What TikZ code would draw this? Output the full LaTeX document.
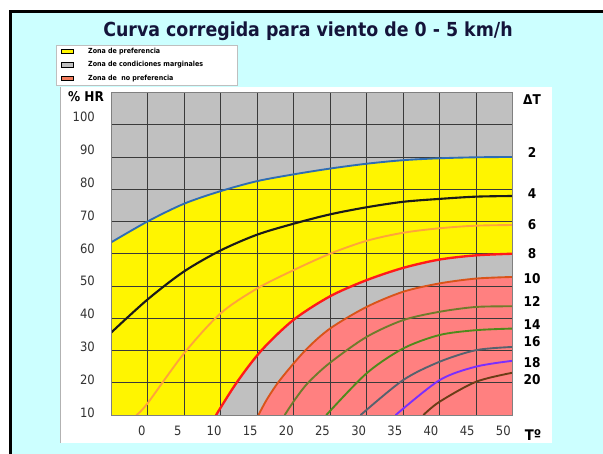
\documentclass[tikz,border=0pt]{standalone}
\usepackage{fontspec}
\setmainfont{DejaVu Sans Condensed}
\definecolor{skyback}{HTML}{CCFFFF}
\definecolor{zonegray}{HTML}{C0C0C0}
\definecolor{zoneyellow}{HTML}{FFF500}
\definecolor{zonepink}{HTML}{FF8080}
\definecolor{legpink}{HTML}{F47C5C}
\definecolor{gridline}{HTML}{3A3A3A}
\definecolor{titlecol}{HTML}{14143A}
\definecolor{labelcol}{HTML}{333333}
\definecolor{dtII}{HTML}{2E6DB4}
\definecolor{dtIV}{HTML}{1A1A1A}
\definecolor{dtVI}{HTML}{FFA43A}
\definecolor{dtVIII}{HTML}{FF1A1A}
\definecolor{dtX}{HTML}{D9541A}
\definecolor{dtXII}{HTML}{6F7C2B}
\definecolor{dtXIV}{HTML}{4F8A1B}
\definecolor{dtXVI}{HTML}{56626E}
\definecolor{dtXVIII}{HTML}{7A2EFF}
\definecolor{dtXX}{HTML}{6B3D16}
\begin{document}
\begin{tikzpicture}[x=0.03cm, y=-0.03cm,
  hrlabel/.style = {anchor=east, text=labelcol, inner sep=0pt, font=\fontsize{11}{11}\selectfont},
  tlabel/.style = {text=labelcol, inner sep=0pt, font=\fontsize{11}{11}\selectfont},
  dtlabel/.style = {inner sep=0pt, font=\bfseries\fontsize{11.5}{11.5}\selectfont},
  legkey/.style = {draw=black, line width=0.6pt, minimum width=0.34cm, minimum height=0.13cm, inner sep=0pt},
  legtext/.style = {anchor=west, inner sep=0pt, font=\bfseries\fontsize{6}{6}\selectfont},
  curve/.style = {line width=1.6pt, line cap=round}]
\useasboundingbox (0,0) rectangle (603,454);
% background, frame and panels
\fill[skyback] (10,11) rectangle (603,454);
\draw[line width=3.4pt] (10.5,454) -- (10.5,11.5) -- (603,11.5);
\fill[white] (60,87) rectangle (552,443);
\draw[gray!60, line width=0.8pt] (60,87) -- (60,443);
\filldraw[fill=white, draw=gray!50] (56,45) rectangle (237,85);
\node[font=\bfseries\fontsize{16.5}{16.5}\selectfont, text=titlecol] (title) at (308,31) {Curva corregida para viento de 0 - 5 km/h};
% legend
\foreach \c/\t [count=\j from 0] in {zoneyellow/Zona de preferencia, zonegray/Zona de condiciones marginales, legpink/Zona de \ no preferencia}
{
    \node[legkey, fill=\c] (key\j) at (67.5, 51.6+13.3*\j) {};
    \node[legtext] (leg\j) at (88, 51.6+13.3*\j) {\t};
}
% axis labels
\node[font=\bfseries\fontsize{11.5}{11.5}\selectfont, inner sep=0pt] (hrname) at (86,96.5) {\% HR};
\node[font=\bfseries\fontsize{11.5}{11.5}\selectfont, inner sep=0pt] (dtname) at (532,100) {ΔT};
\node[font=\bfseries\fontsize{12.5}{12.5}\selectfont, inner sep=0pt] (tname) at (533,435) {Tº};
\foreach \v [count=\j from 0] in {100, 90, 80, 70, 60, 50, 40, 30, 20, 10}
    \node[hrlabel] (hr\v) at (95, 117+32.86*\j) {\v};
\foreach \v [count=\j from 0] in {0, 5, 10, 15, 20, 25, 30, 35, 40, 45, 50}
    \node[tlabel] (t\v) at (141.7+36.16*\j, 430.7) {\v};
\foreach \v/\y in {2/152.7, 4/193.3, 6/224.3, 8/253.3, 10/278.3, 12/301.7, 14/325, 16/341.7, 18/362.7, 20/379.3}
    \node[dtlabel] (dt\v) at (532, \y) {\v};
% chart: T on x, % HR on y
\begin{scope}[shift={(111,415)}, x=0.219cm, y=0.09675cm, shift={(5,-10)}]
\begin{scope}
\clip (-5,10) rectangle (50,110);
\fill[zonegray] (-5,10) rectangle (50,110);
\fill[zoneyellow] plot[smooth] coordinates {(-5,63.5) (0,70) (5,75.5) (10,79.4) (15,82.5) (20,84.6) (25,86.4) (30,87.9) (35,89) (40,89.6) (45,89.9) (50,90)} -- (50,10) -- (-5,10) -- cycle;
\fill[zonegray] plot[smooth] coordinates {(9.4,10) (12.2,20) (15.6,30) (20,39.5) (25,46.8) (30,51.8) (35,55.6) (40,58.2) (45,59.5) (50,60)} -- (50,10) -- cycle;
\fill[zonepink] plot[smooth] coordinates {(15.2,10) (16.4,15) (18.2,21) (21.6,30) (25,36.8) (30,43.5) (35,48.2) (40,50.8) (45,52.3) (50,52.8)} -- (50,10) -- cycle;
\foreach \t in {-5, 0, ..., 50}
    \draw[gridline, line width=0.7pt] (\t,10) -- (\t,110);
\foreach \h in {10, 20, ..., 110}
    \draw[gridline, line width=0.7pt] (-5,\h) -- (50,\h);
\draw[curve, dtII] plot[smooth] coordinates {(-5,63.5) (0,70) (5,75.5) (10,79.4) (15,82.5) (20,84.6) (25,86.4) (30,87.9) (35,89) (40,89.6) (45,89.9) (50,90)};
\draw[curve, dtIV, line width=1.8pt] plot[smooth] coordinates {(-5,35.5) (0,45.8) (5,54.5) (10,61) (15,65.9) (20,69.3) (25,72.2) (30,74.4) (35,76.1) (40,77) (45,77.7) (50,77.9)};
\draw[curve, dtVI] plot[smooth] coordinates {(-1.5,10) (0,13.6) (5,29.1) (10,41.5) (15,49.2) (20,54.9) (25,60) (30,64) (35,66.5) (40,67.9) (45,68.7) (50,68.9)};
\draw[curve, dtVIII, line width=2pt] plot[smooth] coordinates {(9.4,10) (12.2,20) (15.6,30) (20,39.5) (25,46.8) (30,51.8) (35,55.6) (40,58.2) (45,59.5) (50,60)};
\draw[curve, dtX] plot[smooth] coordinates {(15.2,10) (16.4,15) (18.2,21) (21.6,30) (25,36.8) (30,43.5) (35,48.2) (40,50.8) (45,52.3) (50,52.8)};
\draw[curve, dtXII] plot[smooth] coordinates {(18.8,10) (20.2,14.8) (22,20) (25,26.2) (30,34.2) (35,39.4) (40,42) (45,43.5) (50,43.7)};
\draw[curve, dtXIV] plot[smooth] coordinates {(24.5,10) (30,22.9) (35,30.6) (40,34.8) (45,36.3) (50,36.8)};
\draw[curve, dtXVI] plot[smooth] coordinates {(29.2,10) (35,20.8) (40,26.5) (45,30.1) (50,31.1)};
\draw[curve, dtXVIII] plot[smooth] coordinates {(34,10) (40,20.8) (45,25) (50,26.8)};
\draw[curve, dtXX] plot[smooth] coordinates {(37.8,10) (40,14.1) (45,20.3) (50,23.1)};
\end{scope}
\draw[gray, line width=0.8pt] (-5,10) rectangle (50,110);
\end{scope}
\end{tikzpicture}
\end{document}
